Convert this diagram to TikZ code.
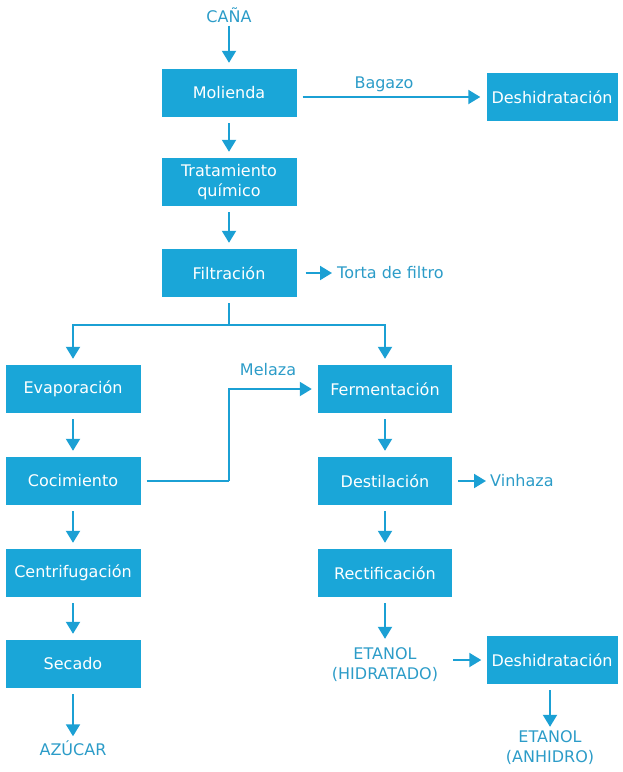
\documentclass[tikz,border=0pt]{standalone}
\usepackage{fontspec}
\setmainfont{DejaVu Sans}
\usepackage{tikz}
\usetikzlibrary{arrows.meta}
\definecolor{boxblue}{RGB}{26,166,216}
\definecolor{lineblue}{RGB}{27,160,212}
\definecolor{textblue}{RGB}{44,156,200}

\begin{document}
\begin{tikzpicture}[x=1pt,y=-1pt]
\tikzset{>={Triangle[width=14pt,length=12pt]}}
\tikzstyle{process} =[rectangle, fill = boxblue, text = white, minimum width=135pt, minimum height=48pt, inner sep=2pt, align=center, font=\fontsize{16}{20}\selectfont]
\tikzstyle{tag} =[text = textblue, align=center, inner sep=1pt, font=\fontsize{16}{20}\selectfont]
\tikzstyle{flow} =[->, draw = lineblue, line width=2pt, shorten >=6pt, shorten <=6pt]
\tikzstyle{link} =[draw = lineblue, line width=2pt, shorten <=6pt]

\useasboundingbox (0,0) rectangle (622,772);

% left column of boxes
\node[tag](cana) at (229,15){CAÑA};
\node[process](molienda) at (229,93){Molienda};
\node[process](tratamiento) at (229,182){Tratamiento\\químico};
\node[process](filtracion) at (229,273){Filtración};
\node[process](evaporacion) at (73,389){Evaporación};
\node[process](cocimiento) at (73,481){Cocimiento};
\node[process](centrifugacion) at (73,573){Centrifugación};
\node[process](secado) at (73,664){Secado};
\node[tag](azucar) at (73,748){AZÚCAR};

% right column of boxes
\node[process, minimum width=131pt](deshidratacion1) at (552,97){Deshidratación};
\node[process, minimum width=134pt](fermentacion) at (385,389){Fermentación};
\node[process, minimum width=134pt](destilacion) at (385,481){Destilación};
\node[process, minimum width=134pt](rectificacion) at (385,573){Rectificación};
\node[tag](hidratado) at (385,665){ETANOL\\(HIDRATADO)};
\node[process, minimum width=131pt](deshidratacion2) at (552,660){Deshidratación};
\node[tag](anhidro) at (550,748){ETANOL\\(ANHIDRO)};

% side products
\node[tag](bagazo) at (384,84){Bagazo};
\node[tag, anchor=west](torta) at (336,273){Torta de filtro};
\node[tag, anchor=west](vinhaza) at (489,481){Vinhaza};
\node[tag](melaza) at (268,370){Melaza};

\coordinate (split) at (229,325);
\coordinate (bend) at (229,481);

\draw [flow, shorten <=2pt] (cana) to (molienda);
\draw [flow] (molienda) to (tratamiento);
\draw [flow] (tratamiento) to (filtracion);
\draw [flow] (molienda.east |- deshidratacion1) to (deshidratacion1);
\draw [flow, shorten <=9pt, shorten >=4pt] (filtracion) to (torta);
\draw [link] (filtracion) to (split);
\draw [flow, shorten <=0pt] (split) -| (evaporacion);
\draw [flow, shorten <=0pt] (split) -| (fermentacion);
\draw [flow] (evaporacion) to (cocimiento);
\draw [flow] (cocimiento) to (centrifugacion);
\draw [flow] (centrifugacion) to (secado);
\draw [flow, shorten >=3pt] (secado) to (azucar);
\draw [link] (cocimiento) to (bend);
\draw [flow, shorten <=0pt] (bend) |- (fermentacion);
\draw [flow] (fermentacion) to (destilacion);
\draw [flow] (destilacion) to (rectificacion);
\draw [flow, shorten >=3pt] (destilacion) to (vinhaza);
\draw [flow, shorten >=8pt] (rectificacion) to (hidratado);
\draw [flow, shorten <=14pt, shorten >=5pt] (hidratado.east |- deshidratacion2) to (deshidratacion2);
\draw [flow, shorten >=3pt] (deshidratacion2.south -| anhidro) to (anhidro);
\end{tikzpicture}
\end{document}
